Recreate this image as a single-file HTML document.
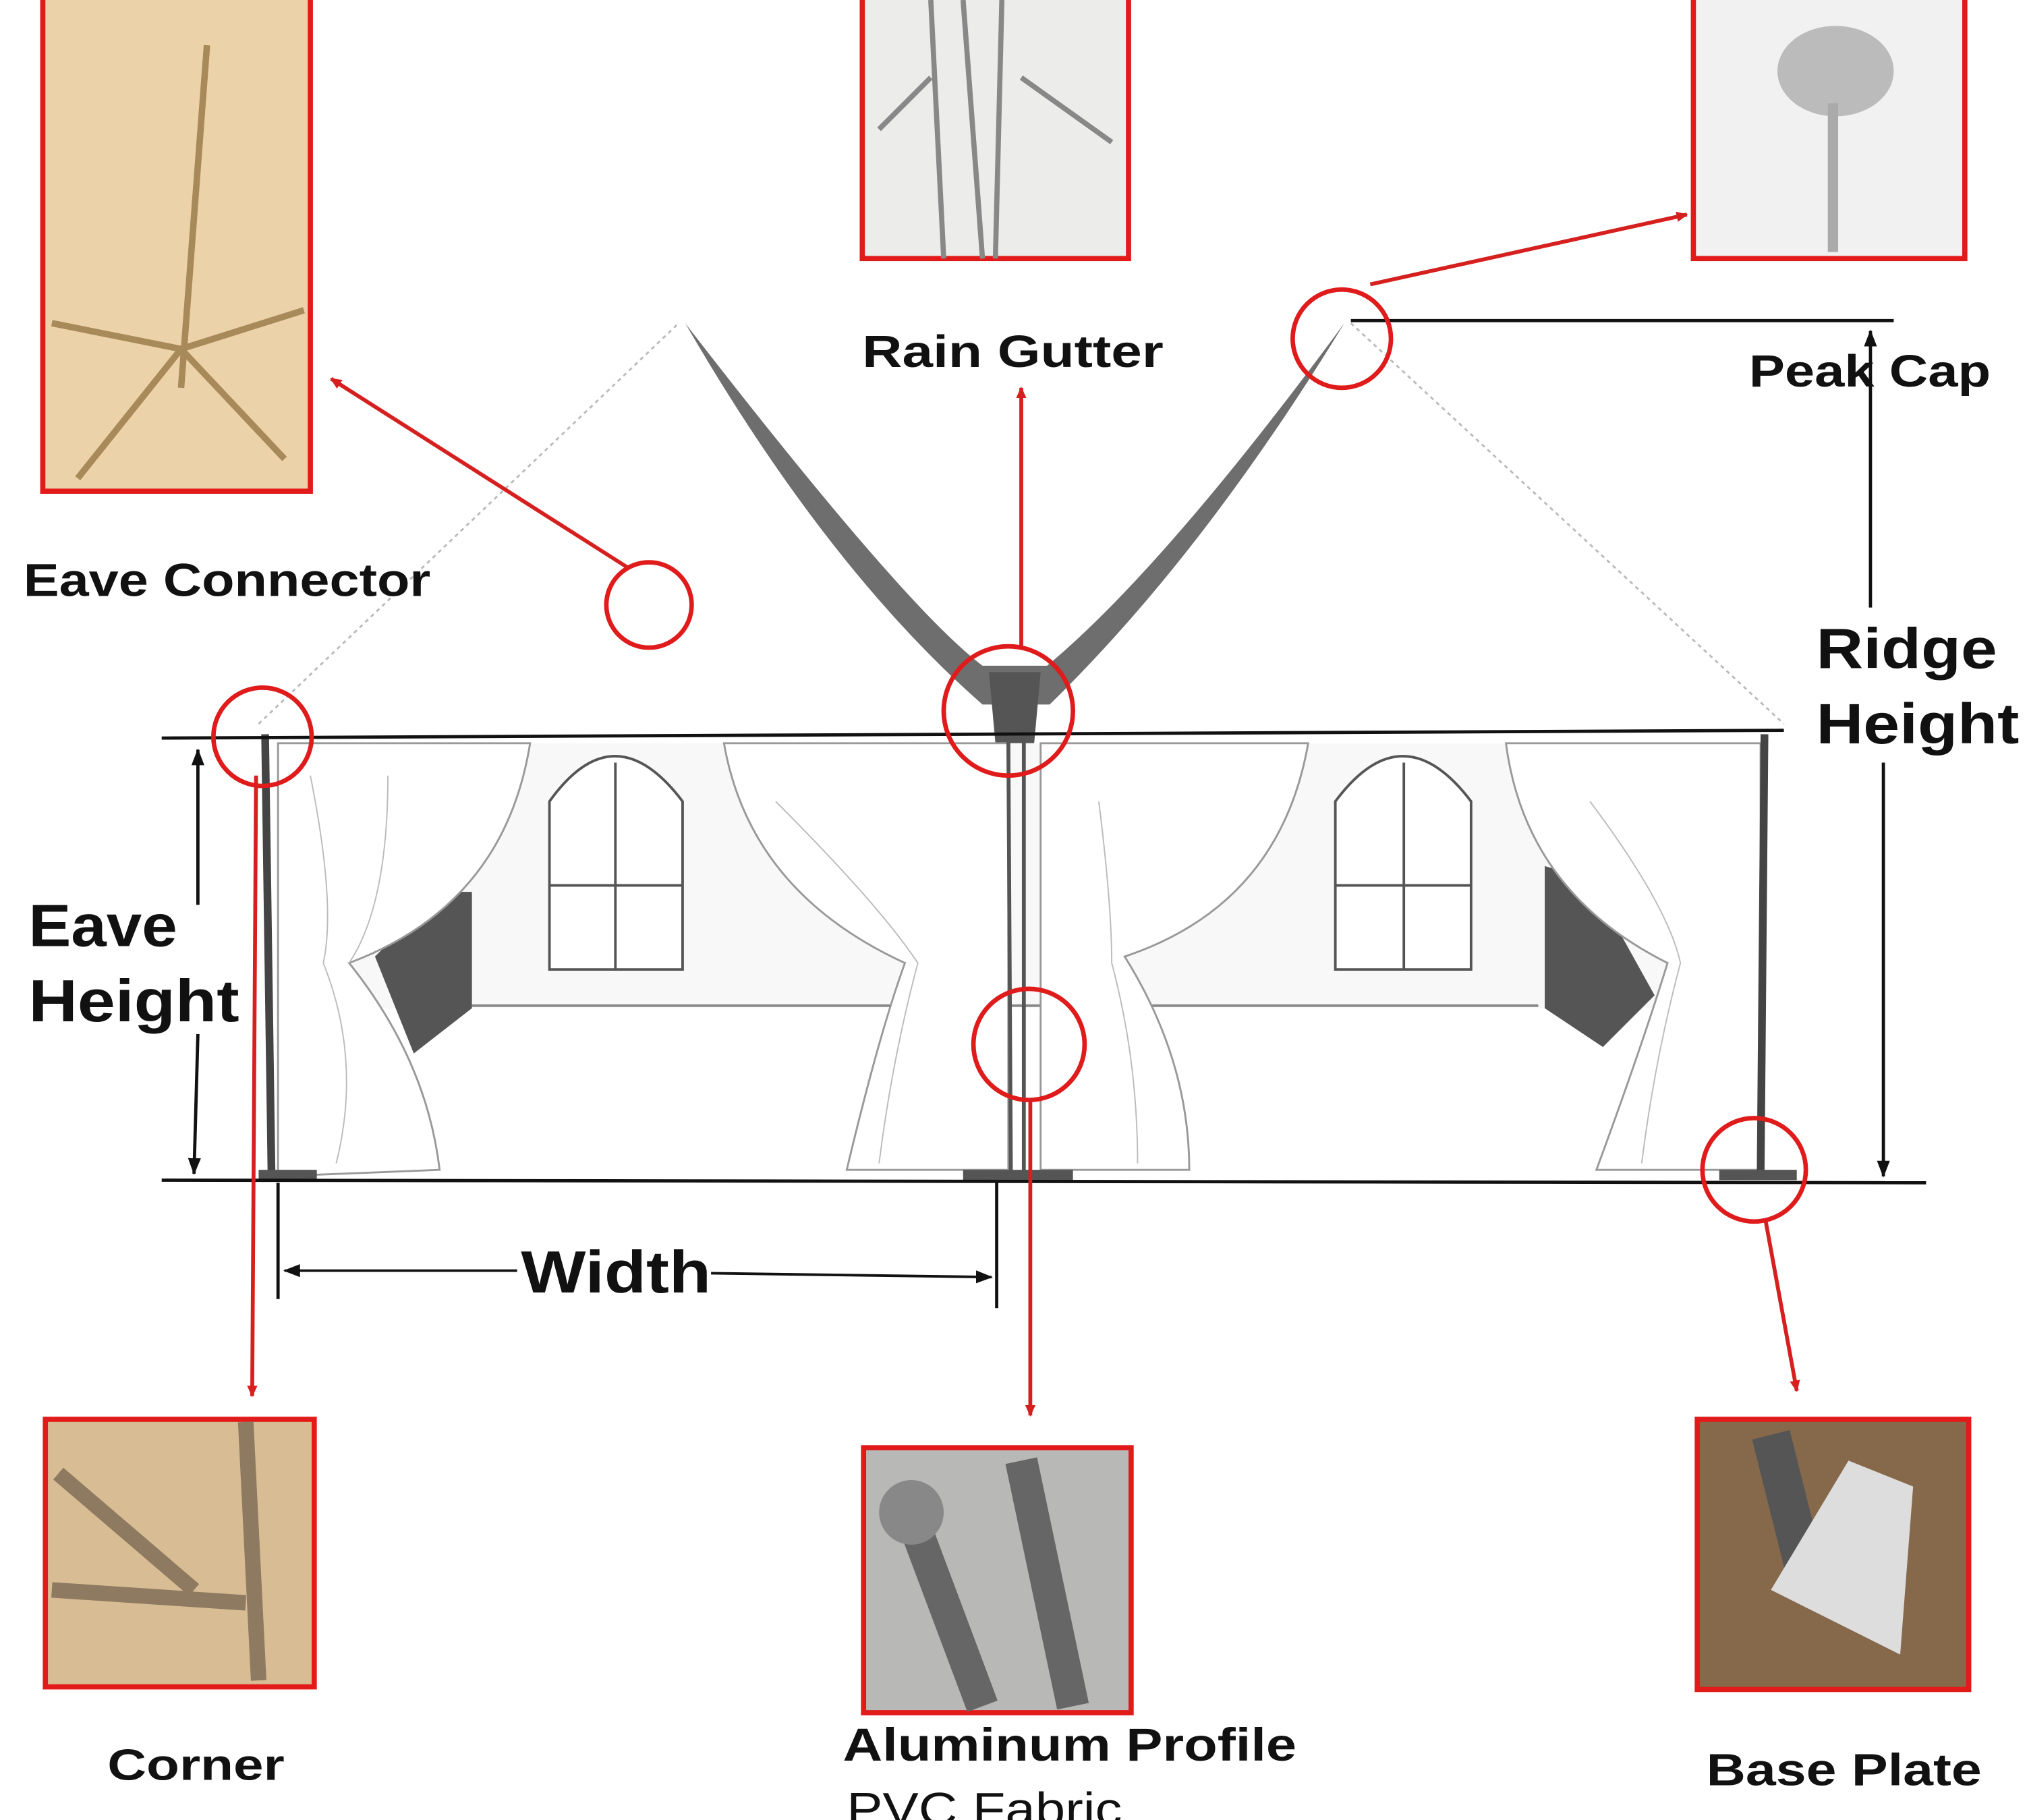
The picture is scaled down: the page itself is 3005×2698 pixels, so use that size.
<!DOCTYPE html>
<html><head><meta charset="utf-8"><style>
html,body{margin:0;padding:0;background:#fff}
svg{display:block}
text{font-family:"Liberation Sans","DejaVu Sans",sans-serif;font-weight:bold;fill:#111}
</style></head><body>
<svg width="3005" height="2698" viewBox="0 0 1568 1408" xmlns="http://www.w3.org/2000/svg">
<defs>
<marker id="ar" markerWidth="10" markerHeight="10" refX="8" refY="5" orient="auto" markerUnits="userSpaceOnUse"><path d="M0,1 L9,5 L0,9 z" fill="#d62020"/></marker>
<marker id="ab" markerWidth="14" markerHeight="12" refX="12" refY="6" orient="auto" markerUnits="userSpaceOnUse"><path d="M0,1 L13,6 L0,11 z" fill="#111"/></marker>
</defs>
<rect width="1568" height="1408" fill="#fff"/>
<!-- photos -->
<rect x="33" y="-4" width="207" height="384" fill="#ecd2a8" stroke="#e21a1a" stroke-width="4"/>
<path d="M160,35 L140,300 M40,250 L140,270 L235,240 M140,270 L60,370 M140,270 L220,355" stroke="#a88a5a" stroke-width="5" fill="none"/>
<rect x="667" y="-4" width="206" height="204" fill="#ececea" stroke="#e21a1a" stroke-width="4"/>
<path d="M720,0 L730,200 M745,0 L760,200 M775,0 L770,200 M680,100 L720,60 M790,60 L860,110" stroke="#888" stroke-width="4" fill="none"/>
<rect x="1310" y="-4" width="210" height="204" fill="#f1f1f1" stroke="#e21a1a" stroke-width="4"/>
<ellipse cx="1420" cy="55" rx="45" ry="35" fill="#bbb"/><path d="M1418,80 L1418,195" stroke="#aaa" stroke-width="8"/>
<rect x="35" y="1098" width="208" height="207" fill="#d8bc94" stroke="#e21a1a" stroke-width="4"/>
<path d="M190,1100 L200,1300 M45,1140 L150,1230 M40,1230 L190,1240" stroke="#8e7a60" stroke-width="12" fill="none"/>
<rect x="668" y="1120" width="207" height="205" fill="#b8b8b6" stroke="#e21a1a" stroke-width="4"/>
<path d="M700,1160 L760,1320 M790,1130 L830,1320" stroke="#666" stroke-width="25" fill="none"/><circle cx="705" cy="1170" r="25" fill="#888"/>
<rect x="1313" y="1098" width="210" height="209" fill="#86694a" stroke="#e21a1a" stroke-width="4"/>
<path d="M1370,1110 L1400,1230" stroke="#555" stroke-width="30"/><path d="M1370,1230 L1430,1130 L1480,1150 L1470,1280 z" fill="#ddd"/>
<!-- tent roof -->
<path d="M200,560 L525,250" stroke="#bbb" stroke-width="1.5" stroke-dasharray="3,3" fill="none"/>
<path d="M1045,250 L1380,560" stroke="#bbb" stroke-width="1.5" stroke-dasharray="3,3" fill="none"/>
<path d="M530,250 Q700,470 760,515 L810,515 Q900,440 1040,250 Q930,430 812,545 L760,545 Q640,440 530,250 z" fill="#6e6e6e"/>
<path d="M765,520 L805,520 L800,575 L770,575 z" fill="#555"/>
<!-- walls/windows -->
<rect x="240" y="575" width="1120" height="205" fill="#f8f8f8"/>
<path d="M365,778 L1190,778" stroke="#888" stroke-width="2"/>
<g fill="#fff" stroke="#555" stroke-width="2">
<path d="M425,750 L425,620 Q475,550 528,620 L528,750 z M476,590 L476,750 M425,685 L528,685"/>
<path d="M1033,750 L1033,620 Q1085,550 1138,620 L1138,750 z M1086,590 L1086,750 M1033,685 L1138,685"/>
</g>
<path d="M290,740 L340,690 L365,690 L365,780 L320,815 z" fill="#555"/>
<path d="M1195,670 L1230,680 L1280,770 L1240,810 L1195,780 z" fill="#555"/>
<!-- curtains -->
<g fill="#fff" stroke="#999" stroke-width="1.5">
<path d="M215,575 L410,575 Q390,700 270,745 Q330,820 340,905 L215,910 z"/>
<path d="M560,575 L780,575 L780,905 L655,905 Q680,800 700,745 Q580,690 560,575 z"/>
<path d="M805,575 L1012,575 Q990,700 870,740 Q920,820 920,905 L805,905 z"/>
<path d="M1165,575 L1362,575 L1362,905 L1235,905 Q1270,810 1290,745 Q1180,690 1165,575 z"/>
</g>
<g stroke="#bbb" stroke-width="1" fill="none">
<path d="M240,600 Q260,700 250,745 Q280,820 260,900 M300,600 Q300,700 270,745 M600,620 Q680,700 710,745 Q690,820 680,900 M850,620 Q860,700 860,745 Q880,820 880,900 M1230,620 Q1290,700 1300,745 Q1280,820 1270,900"/>
</g>
<!-- posts -->
<path d="M205,568 L210,912" stroke="#444" stroke-width="6"/>
<path d="M780,570 L782,912 M792,570 L792,912" stroke="#555" stroke-width="3"/>
<path d="M1365,568 L1362,912" stroke="#444" stroke-width="6"/>
<rect x="745" y="905" width="85" height="8" fill="#555"/><rect x="1330" y="905" width="60" height="8" fill="#555"/><rect x="200" y="905" width="45" height="8" fill="#555"/>
<!-- eave + ground lines -->
<path d="M125,571 L1380,565" stroke="#111" stroke-width="2.5"/>
<path d="M125,913 L1490,915" stroke="#111" stroke-width="2.5"/>
<!-- dimensions -->
<path d="M1045,248 L1465,248" stroke="#111" stroke-width="2.5"/>
<path d="M153,700 L153,580" stroke="#111" stroke-width="2.5" marker-end="url(#ab)"/>
<path d="M153,800 L150,908" stroke="#111" stroke-width="2.5" marker-end="url(#ab)"/>
<path d="M1447,470 L1447,256" stroke="#111" stroke-width="2.5" marker-end="url(#ab)"/>
<path d="M1457,590 L1457,910" stroke="#111" stroke-width="2.5" marker-end="url(#ab)"/>
<path d="M215,915 L215,1005 M771,915 L771,1012" stroke="#111" stroke-width="2.5"/>
<path d="M400,983 L220,983" stroke="#111" stroke-width="2" marker-end="url(#ab)"/>
<path d="M550,985 L767,988" stroke="#111" stroke-width="2" marker-end="url(#ab)"/>
<!-- red circles & arrows -->
<g fill="none" stroke="#e01b1b" stroke-width="3.5">
<circle cx="203" cy="570" r="38"/><circle cx="502" cy="468" r="33"/><circle cx="780" cy="550" r="50"/>
<circle cx="1038" cy="262" r="38"/><circle cx="796" cy="808" r="43"/><circle cx="1357" cy="905" r="40"/>
</g>
<g stroke="#d62020" stroke-width="3" fill="none" marker-end="url(#ar)">
<path d="M487,440 L256,293"/><path d="M790,500 L790,300"/><path d="M1060,220 L1305,166"/>
<path d="M198,600 L195,1080"/><path d="M797,850 L797,1095"/><path d="M1366,945 L1390,1076"/>
</g>
<!-- labels -->
<text x="18" y="461" font-size="36" textLength="315" lengthAdjust="spacingAndGlyphs">Eave Connector</text>
<text x="667" y="284" font-size="35" textLength="233" lengthAdjust="spacingAndGlyphs">Rain Gutter</text>
<text x="1353" y="299" font-size="35" textLength="187" lengthAdjust="spacingAndGlyphs">Peak Cap</text>
<text x="1405" y="517" font-size="44" textLength="140" lengthAdjust="spacingAndGlyphs">Ridge</text>
<text x="1405" y="575" font-size="44" textLength="157" lengthAdjust="spacingAndGlyphs">Height</text>
<text x="22" y="732" font-size="46" textLength="115" lengthAdjust="spacingAndGlyphs">Eave</text>
<text x="22" y="790" font-size="46" textLength="163" lengthAdjust="spacingAndGlyphs">Height</text>
<text x="403" y="1000" font-size="46" textLength="147" lengthAdjust="spacingAndGlyphs">Width</text>
<text x="83" y="1377" font-size="34" textLength="137" lengthAdjust="spacingAndGlyphs">Corner</text>
<text x="652" y="1362" font-size="36" textLength="351" lengthAdjust="spacingAndGlyphs">Aluminum Profile</text>
<text x="655" y="1412" font-size="36" style="font-weight:normal" textLength="213" lengthAdjust="spacingAndGlyphs">PVC Fabric</text>
<text x="1320" y="1381" font-size="35" textLength="213" lengthAdjust="spacingAndGlyphs">Base Plate</text>
</svg>
</body></html>
